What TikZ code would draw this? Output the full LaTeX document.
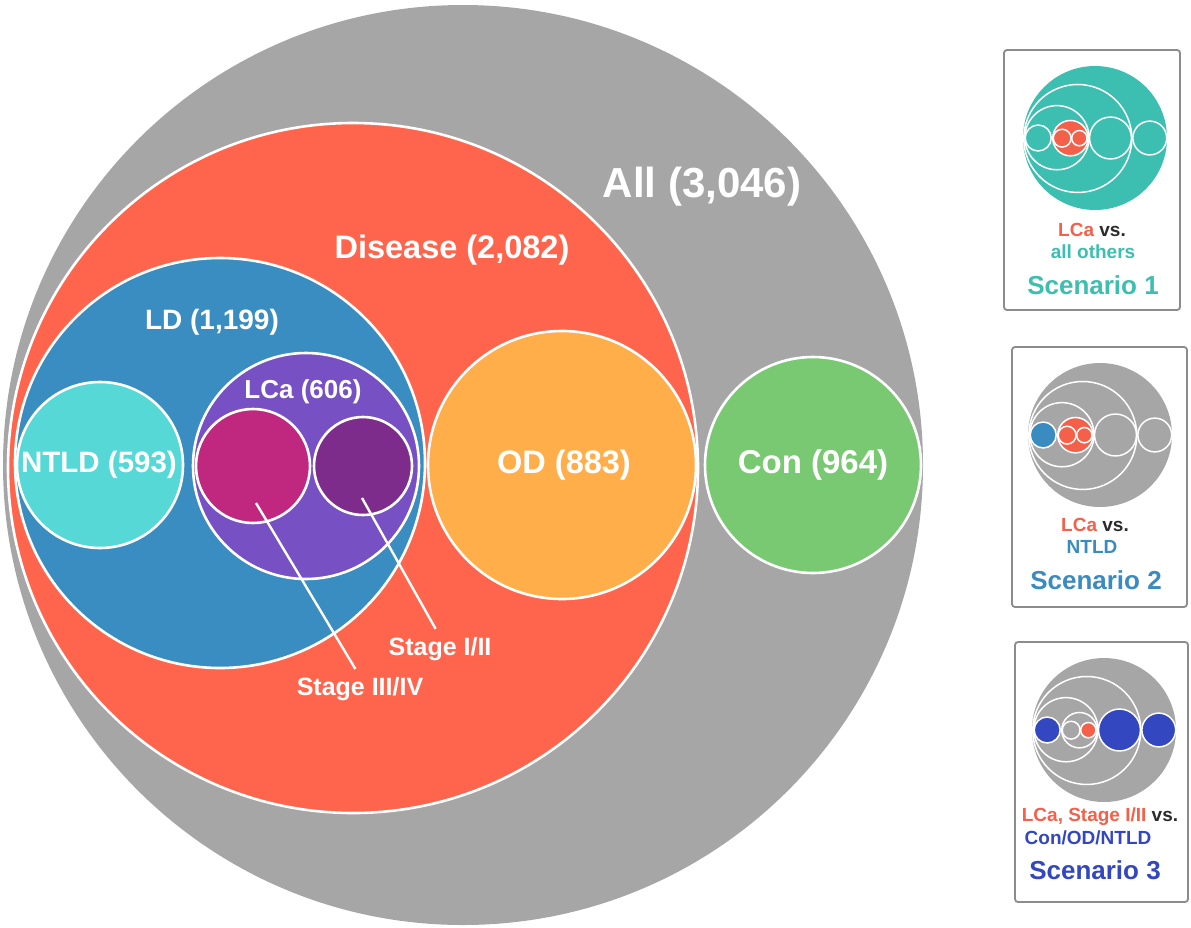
\documentclass[tikz,border=0pt]{standalone}
\usepackage{fontspec}
\setmainfont{Liberation Sans}
\definecolor{cgray}{HTML}{A6A6A6}
\definecolor{cred}{HTML}{FF654C}
\definecolor{cblue}{HTML}{3A8DC0}
\definecolor{cteal}{HTML}{55D8D6}
\definecolor{cpurple}{HTML}{7750C4}
\definecolor{cmag}{HTML}{C0287F}
\definecolor{cdpur}{HTML}{7E2C8C}
\definecolor{corange}{HTML}{FFAE4A}
\definecolor{cgreen}{HTML}{79C973}
\definecolor{steal}{HTML}{3CBFB0}
\definecolor{sred}{HTML}{F4604A}
\definecolor{sblue}{HTML}{3A8BC0}
\definecolor{sdblue}{HTML}{3347C0}
\definecolor{sdark}{HTML}{2B2B2B}
\definecolor{boxgray}{HTML}{8C8C8C}
\newcommand{\fs}[1]{\fontsize{#1}{#1}\selectfont}
\newcommand{\MiniVenn}[9]{%
  \fill[#1] (0,0) circle[radius=460];
  \filldraw[mini,fill=#2] (-110,3) circle[radius=345];
  \filldraw[mini,fill=#3] (-243,-2) circle[radius=205];
  \filldraw[mini,fill=#4] (-363,0) circle[radius=83];
  \filldraw[mini,fill=#5] (-157,1) circle[radius=113];
  \filldraw[mini,fill=#6] (-210,1) circle[radius=57];
  \filldraw[mini,fill=#7] (-100,1) circle[radius=49];
  \filldraw[mini,fill=#8] (99,0) circle[radius=134];
  \filldraw[mini,fill=#9] (350,0) circle[radius=108];}
\begin{document}
\begin{tikzpicture}[x=1pt,y=-1pt,
  disc/.style={circle, inner sep=0pt, draw=white, line width=2.6pt, minimum size=#1pt},
  lbl/.style={text=white, font=\bfseries\fs{#1}, inner sep=0pt},
  leader/.style={draw=white, line width=2.4pt, shorten >=9pt},
  mini/.style={draw=white, line width=1.5pt},
  scbox/.style={draw=boxgray, line width=1.8pt, rounded corners=3pt, fill=white, inner sep=0pt},
  sctxt/.style={font=\bfseries\fs{19}, inner sep=0pt},
  sctitle/.style={font=\bfseries\fs{26}, inner sep=0pt}]
\useasboundingbox (0,0) rectangle (1191,927);
% main diagram
\node[circle, inner sep=0pt, minimum size=920pt, fill=cgray] (all) at (463,465) {};
\node[disc=690, fill=cred] (dis) at (353,468) {};
\node[disc=410, fill=cblue] (ld) at (220,463) {};
\node[disc=166, fill=cteal] (ntld) at (100,465) {};
\node[disc=226, fill=cpurple] (lca) at (306,466) {};
\node[disc=114, fill=cmag] (s34) at (253,466) {};
\node[disc=98, fill=cdpur] (s12) at (363,466) {};
\node[disc=268, fill=corange] (od) at (562,465) {};
\node[disc=216, fill=cgreen] (con) at (813,465) {};
% labels
\node[lbl=42] (tall) at (702,187) {All (3,046)};
\node[lbl=32.5] (tdis) at (452,250) {Disease (2,082)};
\node[lbl=28] (tld) at (212,322) {LD (1,199)};
\node[lbl=26] (tlca) at (303,392) {LCa (606)};
\node[lbl=29.5] (tntld) at (99,465) {NTLD (593)};
\node[lbl=32.5] (tod) at (564,465) {OD (883)};
\node[lbl=33] (tcon) at (813,465) {Con (964)};
\node[lbl=25, anchor=base] (l12) at (440,655) {Stage I/II};
\node[lbl=25, anchor=base] (l34) at (360,695) {Stage III/IV};
\coordinate (p34) at (256,503);
\coordinate (p12) at (362,498);
\draw[leader] (p34) -- (l34.north);
\draw[leader] (p12) -- (l12.north);
% scenario boxes
\node[scbox, minimum width=176pt, minimum height=260pt] (box1) at (1092,180) {};
\node[scbox, minimum width=175pt, minimum height=260pt] (box2) at (1099.5,477) {};
\node[scbox, minimum width=173pt, minimum height=260pt] (box3) at (1101.5,772) {};
\begin{scope}[shift={(1095,138)}, scale=0.1565]
  \MiniVenn{steal}{steal}{steal}{steal}{sred}{sred}{sred}{steal}{steal}
\end{scope}
\begin{scope}[shift={(1100,435)}, scale=0.1565]
  \MiniVenn{cgray}{cgray}{cgray}{sblue}{sred}{sred}{sred}{cgray}{cgray}
\end{scope}
\begin{scope}[shift={(1104,730)}, scale=0.1565]
  \MiniVenn{cgray}{cgray}{cgray}{sdblue}{cgray}{cgray}{sred}{sdblue}{sdblue}
\end{scope}
% scenario texts
\node[sctxt] (s1a) at (1092,230) {\textcolor{sred}{LCa} \textcolor{sdark}{vs.}};
\node[sctxt, text=steal] (s1b) at (1093,252) {all others};
\node[sctitle, text=steal] (s1c) at (1093,285) {Scenario 1};
\node[sctxt] (s2a) at (1095,525) {\textcolor{sred}{LCa} \textcolor{sdark}{vs.}};
\node[sctxt, text=sblue] (s2b) at (1092,547) {NTLD};
\node[sctitle, text=sblue] (s2c) at (1096,580) {Scenario 2};
\node[sctxt] (s3a) at (1100,817) {\textcolor{sred}{LCa, Stage I/II} \textcolor{sdark}{vs.}};
\node[sctxt, text=sdblue] (s3b) at (1088,838) {Con/OD/NTLD};
\node[sctitle, text=sdblue] (s3c) at (1095,870) {Scenario 3};
\end{tikzpicture}
\end{document}
